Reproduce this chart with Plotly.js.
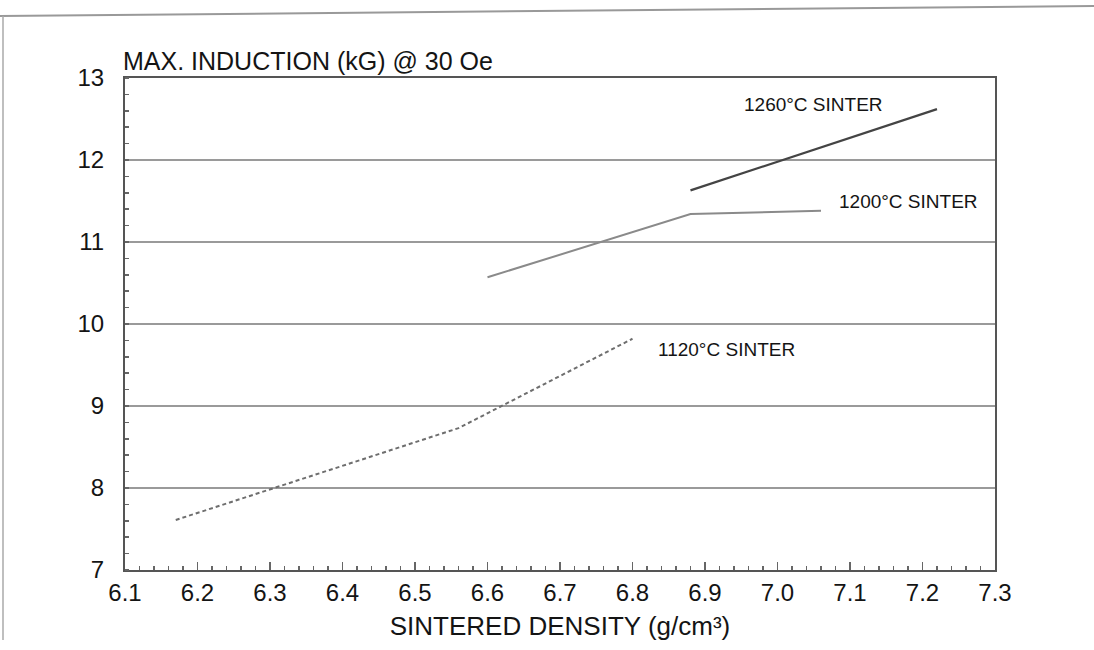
<!DOCTYPE html>
<html>
<head>
<meta charset="utf-8">
<script src="https://cdn.plot.ly/plotly-3.0.1.min.js"></script>
<style>html,body{margin:0;padding:0;background:#fff;}#chart{width:1094px;height:650px;}</style>
</head>
<body>
<div id="chart"></div>
<script>
// Sintered density (g/cm3) and max induction (kG) @ 30 Oe
const density1260 = [6.88, 7.22];
const induction1260 = [11.63, 12.62];
const density1200 = [6.60, 6.88, 7.06];
const induction1200 = [10.57, 11.34, 11.38];
const density1120 = [6.17, 6.56, 6.80];
const induction1120 = [7.61, 8.73, 9.82];
const seriesNames = ["1260°C SINTER", "1200°C SINTER", "1120°C SINTER"];
const labelX = [7.05, 7.18, 6.93];
const labelY = [12.68, 11.49, 9.69];
const xTickVals = [6.1, 6.2, 6.3, 6.4, 6.5, 6.6, 6.7, 6.8, 6.9, 7.0, 7.1, 7.2, 7.3];
const xTickText = ["6.1", "6.2", "6.3", "6.4", "6.5", "6.6", "6.7", "6.8", "6.9", "7.0", "7.1", "7.2", "7.3"];
const yTickVals = [7, 8, 9, 10, 11, 12, 13];

const font = "Liberation Sans, Arial, sans-serif";
const ink = "#141414";

const traces = [
  {x: density1260, y: induction1260, mode: "lines", name: seriesNames[0],
   line: {color: "#444444", width: 2.2}},
  {x: density1200, y: induction1200, mode: "lines", name: seriesNames[1],
   line: {color: "#8a8a8a", width: 2}},
  {x: density1120, y: induction1120, mode: "lines", name: seriesNames[2],
   line: {color: "#6e6e6e", width: 2, dash: "4px,3px"}}
];

const labelFont = {family: font, size: 19, color: ink};
const annotations = seriesNames.map((t, i) => ({
  x: labelX[i], y: labelY[i], text: t, showarrow: false, font: labelFont, xanchor: "center", yanchor: "middle"
}));

const layout = {
  width: 1094, height: 650,
  paper_bgcolor: "#ffffff", plot_bgcolor: "#ffffff",
  margin: {l: 125, r: 99, t: 78, b: 80},
  showlegend: false,
  font: {family: font, color: ink},
  title: {text: "MAX. INDUCTION (kG) @ 30 Oe", x: 123/1094, xref: "container", xanchor: "left",
          y: 1 - 61/650, yref: "container", yanchor: "middle",
          font: {family: font, size: 25, color: ink}},
  xaxis: {
    range: [6.1, 7.3], tickvals: xTickVals, ticktext: xTickText,
    showgrid: false, zeroline: false,
    showline: true, mirror: true, linecolor: "#555", linewidth: 2,
    ticks: "inside", ticklen: 8, tickcolor: "#666", tickwidth: 1.5,
    ticklabelstandoff: 0,
    minor: {dtick: 0.02, ticks: "inside", ticklen: 4, tickcolor: "#666", tickwidth: 1.5, showgrid: false},
    tickfont: {family: font, size: 24, color: ink},
    title: {text: "SINTERED DENSITY (g/cm³)", standoff: 12, font: {family: font, size: 26, color: ink}}
  },
  yaxis: {
    range: [7, 13], tickvals: yTickVals,
    showgrid: true, gridcolor: "#9a9a9a", gridwidth: 2, zeroline: false,
    showline: true, mirror: true, linecolor: "#555", linewidth: 2,
    ticks: "", ticklen: 0,
    ticklabelstandoff: 14,
    minor: {dtick: 0.2, ticks: "inside", ticklen: 4, tickcolor: "#666", tickwidth: 1.5, showgrid: false},
    tickfont: {family: font, size: 24, color: ink}
  },
  annotations: annotations,
  shapes: [
    {type: "line", xref: "paper", yref: "paper", x0: -125/870, x1: (1094-125)/870, y0: 1 + 62/492, y1: 1 + 72/492,
     line: {color: "#999", width: 2}},
    {type: "line", xref: "paper", yref: "paper", x0: -122/870, x1: -122/870, y0: 1 + 62/492, y1: -70/492,
     line: {color: "#aaa", width: 1.5}}
  ]
};

Plotly.newPlot("chart", traces, layout, {displayModeBar: false, staticPlot: true});
</script>
</body>
</html>
